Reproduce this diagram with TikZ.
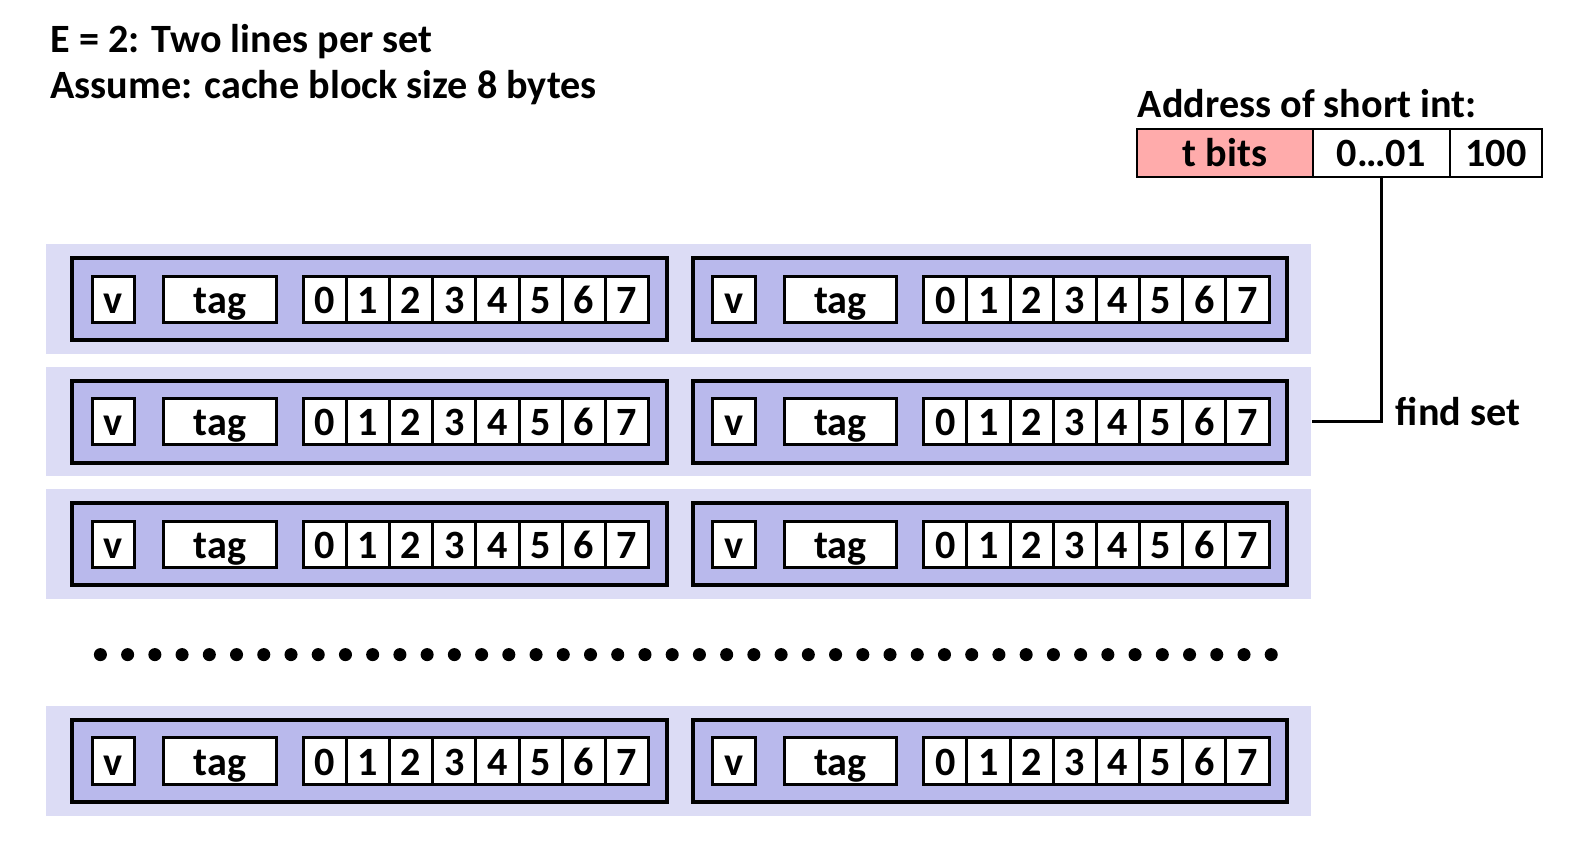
\documentclass[tikz,border=0pt]{standalone}
\usepackage{fontspec}
\setmainfont{Carlito}
\definecolor{bandc}{HTML}{DCDCF5}
\definecolor{linec}{HTML}{B9B9EC}
\definecolor{tbitc}{HTML}{FFABAB}
\begin{document}
\begin{tikzpicture}[x=0.5pt,y=-0.5pt,
  font=\bfseries\fontsize{20}{24}\selectfont,
  band/.style={fill=bandc, draw=none, inner sep=0, minimum width=630pt, minimum height=54.5pt},
  linebox/.style={fill=linec, draw=black, line width=2pt, minimum width=296pt, minimum height=41pt, inner sep=0},
  cell/.style={fill=white, draw=black, line width=1.5pt, minimum height=23pt, inner sep=0, text height=14pt, text depth=0pt},
  addr/.style={draw=black, line width=1pt, minimum height=24pt, inner sep=0, text height=14pt, text depth=0pt},
  conn/.style={draw=black, line width=1.5pt},
  lbl/.style={inner sep=0, anchor=base west}
]
\useasboundingbox (0,0) rectangle (1574,843);
\begin{scope}[scale=1.004, transform shape]
% titles
\node[lbl] (t1) at (50,52) {E = 2: Two lines per set};
\node[lbl] (t2) at (50,98) {Assume: cache block size 8 bytes};

% address
\node[lbl] (addrlbl) at (1133,117) {Address of short int:};
\node[addr, fill=tbitc, minimum width=88pt] (atag) at (1220,152) {t bits};
\node[addr, fill=white, minimum width=68pt] (aset) at (1376,152) {0\ldots01};
\node[addr, fill=white, minimum width=46pt] (aoff) at (1490,152) {100};

% sets
\foreach \r/\y in {1/298,2/420,3/542,4/758}{
  \node[band] (band\r) at (676,\y) {};
  \foreach \l/\dx in {1/0,2/618}{
    \node[linebox] (line\r\l) at (368+\dx,\y) {};
    \node[cell, minimum width=21pt] (v\r\l) at (113+\dx,\y) {v};
    \node[cell, minimum width=56pt] (tag\r\l) at (219+\dx,\y) {tag};
    \foreach \b in {0,...,7}{
      \node[cell, minimum width=21.5pt] (b\r\l\b) at (323.5+43*\b+\dx,\y) {\b};
    }
  }
}

% dots
\foreach \i in {0,...,43}{
  \fill (100+27.12*\i,652) circle (3.25pt);
}

% find set connector
\draw[conn] (aset.south) |- (band2.east);
\node[anchor=west, inner sep=0] (findset) at (1390,410) {find set};
\end{scope}
\end{tikzpicture}
\end{document}
